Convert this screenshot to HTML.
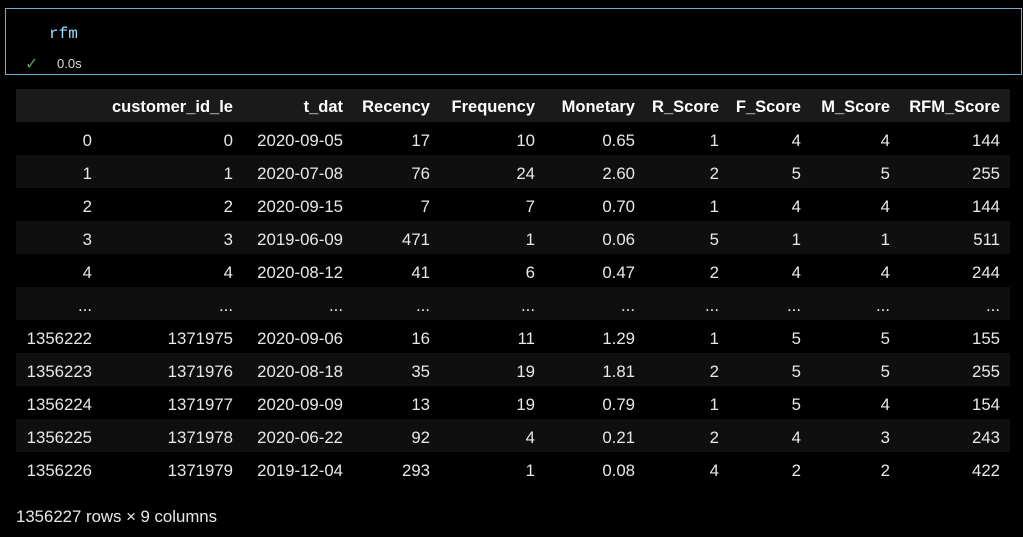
<!DOCTYPE html>
<html><head><meta charset="utf-8"><style>
body{margin:0;width:1023px;height:537px;background:#000;overflow:hidden;font-family:"Liberation Sans",sans-serif;color:#e8e8e8;position:relative}
.box{position:absolute;left:5px;top:8px;width:1017px;height:67px;border:1px solid #6ab0d0;box-sizing:border-box}
.code{position:absolute;left:49px;top:25px;font-family:"Liberation Mono",monospace;font-size:16px;color:#9cdcfe}
.chk{position:absolute;left:25px;top:54px;color:#6a9955;font-size:16px}
.t{position:absolute;left:57px;top:56px;font-size:13px;color:#ddd}
.row{position:absolute;left:16px;width:994px;height:33px}
.c{position:absolute;top:2px;height:33px;line-height:33px;font-size:16.8px;white-space:nowrap;text-align:right}
.h .c{font-weight:bold;color:#fff;font-size:16.5px}
.foot{position:absolute;left:16px;top:507px;font-size:16.8px}
</style></head><body>
<div class="box"></div>
<div class="code">rfm</div>
<div class="chk">✓</div>
<div class="t">0.0s</div>
<div id="tbl"></div>
<div class="foot">1356227 rows × 9 columns</div>
<script>
var R=[92,233,343,430,535,635,719,801,890,1000];
var rows=[["","customer_id_le","t_dat","Recency","Frequency","Monetary","R_Score","F_Score","M_Score","RFM_Score"],
["0","0","2020-09-05","17","10","0.65","1","4","4","144"],
["1","1","2020-07-08","76","24","2.60","2","5","5","255"],
["2","2","2020-09-15","7","7","0.70","1","4","4","144"],
["3","3","2019-06-09","471","1","0.06","5","1","1","511"],
["4","4","2020-08-12","41","6","0.47","2","4","4","244"],
["...","...","...","...","...","...","...","...","...","..."],
["1356222","1371975","2020-09-06","16","11","1.29","1","5","5","155"],
["1356223","1371976","2020-08-18","35","19","1.81","2","5","5","255"],
["1356224","1371977","2020-09-09","13","19","0.79","1","5","4","154"],
["1356225","1371978","2020-06-22","92","4","0.21","2","4","3","243"],
["1356226","1371979","2019-12-04","293","1","0.08","4","2","2","422"]];
var h="";
rows.forEach(function(r,i){
 var bg=i==0?"#1a1a1a":(i%2==0?"#0f0f0f":"#000");
 h+='<div class="row'+(i==0?' h':'')+'" style="top:'+(89+33*i)+'px;background:'+bg+'">';
 r.forEach(function(v,j){h+='<div class="c" style="right:'+(1010-R[j])+'px">'+v+'</div>';});
 h+='</div>';
});
document.getElementById("tbl").innerHTML=h;
</script>
</body></html>
